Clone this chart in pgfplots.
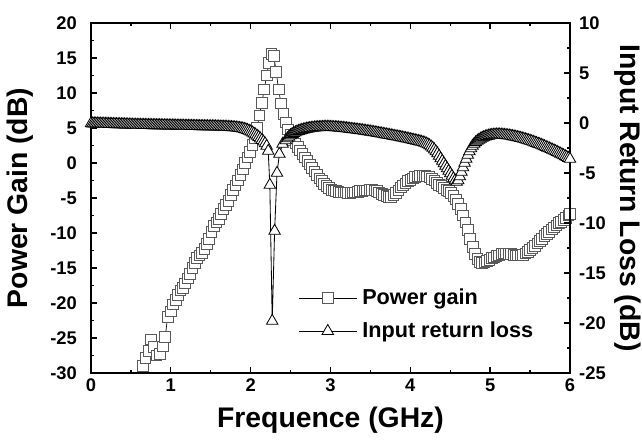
\documentclass[border=0pt]{standalone}
\usepackage{fontspec}
\setmainfont{Liberation Sans}
\usepackage{pgfplots}
\usepackage{pgfplotstable}
\pgfplotsset{compat=1.18}

\pgfplotstableread{
x y
0.65 -29.0
0.68 -27.8
0.72 -26.8
0.75 -25.2
0.78 -26.3
0.82 -27.5
0.86 -27.3
0.90 -26.2
0.93 -24.8
0.96 -22.0
1.00 -21.2
1.03 -20.2
1.06 -19.6
1.09 -18.8
1.12 -18.2
1.15 -17.8
1.18 -17.2
1.21 -16.5
1.24 -15.8
1.27 -15.0
1.30 -14.3
1.33 -13.6
1.36 -13.2
1.39 -12.8
1.42 -12.3
1.45 -11.6
1.48 -10.8
1.51 -9.8
1.54 -9.0
1.57 -8.5
1.60 -8.0
1.63 -7.3
1.66 -6.6
1.69 -6.0
1.72 -5.4
1.75 -4.6
1.78 -3.8
1.81 -3.2
1.84 -2.5
1.87 -1.7
1.90 -0.9
1.93 0.0
1.96 0.8
1.99 1.6
2.02 2.6
2.05 3.6
2.08 5.0
2.11 6.8
2.14 8.6
2.17 10.5
2.20 12.5
2.23 14.3
2.26 15.6
2.29 15.3
2.32 13.0
2.35 10.5
2.38 8.5
2.41 7.0
2.44 5.8
2.47 4.8
2.50 4.0
2.53 3.3
2.56 2.8
2.59 2.3
2.62 1.8
2.65 1.3
2.68 0.8
2.71 0.3
2.74 -0.2
2.77 -0.7
2.80 -1.2
2.83 -1.7
2.86 -2.2
2.89 -2.6
2.92 -3.0
2.95 -3.3
2.98 -3.6
3.01 -3.8
3.04 -3.9
3.07 -4.0
3.10 -4.1
3.13 -4.2
3.16 -4.2
3.19 -4.2
3.22 -4.3
3.25 -4.3
3.28 -4.2
3.31 -4.2
3.34 -4.1
3.37 -4.0
3.40 -4.0
3.43 -3.9
3.46 -3.9
3.49 -3.8
3.52 -3.8
3.55 -3.9
3.58 -4.0
3.61 -4.2
3.64 -4.4
3.67 -4.6
3.70 -4.7
3.73 -4.8
3.76 -4.8
3.79 -4.6
3.82 -4.3
3.85 -3.9
3.88 -3.5
3.91 -3.2
3.94 -2.9
3.97 -2.6
4.00 -2.4
4.03 -2.2
4.06 -2.0
4.09 -1.9
4.12 -1.8
4.15 -1.8
4.18 -1.8
4.21 -1.9
4.24 -2.0
4.27 -2.3
4.30 -2.5
4.33 -2.8
4.36 -3.1
4.39 -3.3
4.42 -3.6
4.45 -3.8
4.48 -4.0
4.51 -4.3
4.54 -4.7
4.57 -5.2
4.60 -5.8
4.63 -6.6
4.66 -7.5
4.69 -8.5
4.72 -9.6
4.75 -10.8
4.78 -12.0
4.81 -13.0
4.84 -13.7
4.87 -14.1
4.90 -14.3
4.93 -14.2
4.96 -14.0
4.99 -13.8
5.02 -13.6
5.05 -13.5
5.08 -13.3
5.11 -13.2
5.14 -13.0
5.17 -12.9
5.20 -12.9
5.23 -13.0
5.26 -13.0
5.29 -13.1
5.32 -13.2
5.35 -13.2
5.38 -13.2
5.41 -13.1
5.44 -12.9
5.47 -12.7
5.50 -12.4
5.53 -12.1
5.56 -11.8
5.59 -11.5
5.62 -11.1
5.65 -10.8
5.68 -10.4
5.71 -10.1
5.74 -9.8
5.77 -9.5
5.80 -9.2
5.83 -8.9
5.86 -8.6
5.89 -8.4
5.92 -8.1
5.95 -7.8
5.98 -7.5
6.00 -7.3
}\gaintable

\pgfplotstableread{
x y
0.00 -0.05
0.02 -0.06
0.04 -0.06
0.06 -0.07
0.08 -0.07
0.10 -0.08
0.12 -0.08
0.14 -0.09
0.16 -0.09
0.18 -0.10
0.20 -0.10
0.22 -0.11
0.24 -0.11
0.26 -0.12
0.28 -0.12
0.30 -0.13
0.32 -0.13
0.34 -0.14
0.36 -0.14
0.38 -0.15
0.40 -0.15
0.42 -0.16
0.44 -0.16
0.46 -0.17
0.48 -0.17
0.50 -0.18
0.52 -0.18
0.54 -0.19
0.56 -0.19
0.58 -0.20
0.60 -0.20
0.62 -0.20
0.64 -0.21
0.66 -0.21
0.68 -0.21
0.70 -0.22
0.72 -0.22
0.74 -0.22
0.76 -0.23
0.78 -0.23
0.80 -0.23
0.82 -0.24
0.84 -0.24
0.86 -0.24
0.88 -0.25
0.90 -0.25
0.92 -0.25
0.94 -0.26
0.96 -0.26
0.98 -0.26
1.00 -0.27
1.02 -0.27
1.04 -0.27
1.06 -0.28
1.08 -0.28
1.10 -0.28
1.12 -0.29
1.14 -0.29
1.16 -0.29
1.18 -0.30
1.20 -0.30
1.22 -0.30
1.24 -0.31
1.26 -0.31
1.28 -0.31
1.30 -0.32
1.32 -0.32
1.34 -0.32
1.36 -0.33
1.38 -0.33
1.40 -0.33
1.42 -0.34
1.44 -0.34
1.46 -0.34
1.48 -0.35
1.50 -0.35
1.52 -0.35
1.54 -0.36
1.56 -0.36
1.58 -0.37
1.60 -0.37
1.62 -0.38
1.64 -0.38
1.66 -0.39
1.68 -0.39
1.70 -0.40
1.72 -0.41
1.74 -0.42
1.76 -0.43
1.78 -0.44
1.80 -0.45
1.82 -0.47
1.84 -0.49
1.86 -0.51
1.88 -0.54
1.90 -0.57
1.92 -0.61
1.94 -0.66
1.96 -0.72
1.98 -0.79
2.00 -0.87
2.02 -0.96
2.04 -1.06
2.06 -1.17
2.08 -1.29
2.10 -1.42
2.12 -1.56
2.14 -1.71
2.16 -1.87
2.18 -2.05
2.20 -2.30
2.22 -2.80
2.24 -6.20
2.27 -19.80
2.30 -10.80
2.33 -5.00
2.36 -3.10
2.40 -2.10
2.44 -1.75
2.46 -1.55
2.48 -1.38
2.50 -1.24
2.52 -1.12
2.54 -1.02
2.56 -0.94
2.58 -0.87
2.60 -0.81
2.62 -0.76
2.64 -0.71
2.66 -0.67
2.68 -0.63
2.70 -0.59
2.72 -0.56
2.74 -0.53
2.76 -0.51
2.78 -0.49
2.80 -0.47
2.82 -0.45
2.84 -0.44
2.86 -0.43
2.88 -0.42
2.90 -0.41
2.92 -0.40
2.94 -0.40
2.96 -0.40
2.98 -0.40
3.00 -0.41
3.02 -0.42
3.04 -0.43
3.06 -0.44
3.08 -0.45
3.10 -0.47
3.12 -0.48
3.14 -0.50
3.16 -0.51
3.18 -0.53
3.20 -0.55
3.22 -0.57
3.24 -0.59
3.26 -0.61
3.28 -0.63
3.30 -0.65
3.32 -0.67
3.34 -0.69
3.36 -0.71
3.38 -0.73
3.40 -0.75
3.42 -0.78
3.44 -0.80
3.46 -0.83
3.48 -0.85
3.50 -0.88
3.52 -0.90
3.54 -0.93
3.56 -0.95
3.58 -0.98
3.60 -1.01
3.62 -1.04
3.64 -1.07
3.66 -1.10
3.68 -1.13
3.70 -1.16
3.72 -1.19
3.74 -1.22
3.76 -1.25
3.78 -1.28
3.80 -1.31
3.82 -1.34
3.84 -1.37
3.86 -1.40
3.88 -1.43
3.90 -1.46
3.92 -1.50
3.94 -1.53
3.96 -1.57
3.98 -1.60
4.00 -1.64
4.02 -1.67
4.04 -1.71
4.06 -1.74
4.08 -1.78
4.10 -1.82
4.12 -1.86
4.14 -1.90
4.16 -1.95
4.18 -2.00
4.20 -2.07
4.22 -2.15
4.24 -2.25
4.26 -2.37
4.28 -2.50
4.30 -2.66
4.32 -2.85
4.34 -3.05
4.36 -3.30
4.38 -3.55
4.40 -3.80
4.42 -4.05
4.44 -4.30
4.46 -4.55
4.48 -4.80
4.50 -5.05
4.52 -5.30
4.54 -5.55
4.56 -5.75
4.58 -5.90
4.60 -5.75
4.62 -5.35
4.64 -4.90
4.66 -4.45
4.68 -4.00
4.70 -3.60
4.72 -3.20
4.74 -2.85
4.76 -2.55
4.78 -2.30
4.80 -2.10
4.82 -1.93
4.84 -1.80
4.86 -1.69
4.88 -1.59
4.90 -1.50
4.92 -1.43
4.94 -1.37
4.96 -1.32
4.98 -1.28
5.00 -1.24
5.02 -1.21
5.04 -1.19
5.06 -1.18
5.08 -1.17
5.10 -1.17
5.12 -1.17
5.14 -1.18
5.16 -1.19
5.18 -1.21
5.20 -1.23
5.22 -1.25
5.24 -1.27
5.26 -1.30
5.28 -1.33
5.30 -1.36
5.32 -1.39
5.34 -1.43
5.36 -1.47
5.38 -1.51
5.40 -1.55
5.42 -1.60
5.44 -1.64
5.46 -1.69
5.48 -1.74
5.50 -1.79
5.52 -1.85
5.54 -1.90
5.56 -1.96
5.58 -2.02
5.60 -2.08
5.62 -2.14
5.64 -2.20
5.66 -2.27
5.68 -2.34
5.70 -2.41
5.72 -2.48
5.74 -2.55
5.76 -2.62
5.78 -2.69
5.80 -2.76
5.82 -2.84
5.84 -2.92
5.86 -3.00
5.88 -3.08
5.90 -3.16
5.92 -3.24
5.94 -3.33
5.96 -3.42
5.98 -3.51
6.00 -3.60
}\rltable

\begin{document}
\begin{tikzpicture}
\pgfplotsset{
  common/.style={
    scale only axis, width=287.4pt, height=210pt,
    xmin=0, xmax=6,
    tick align=inside,
    major tick length=3.5pt, minor tick length=2pt,
    every tick/.style={line width=0.8pt, black},
    axis line style={line width=0.8pt},
    /pgf/number format/assume math mode=true,
    tick label style={font=\bfseries\fontsize{11}{13}\selectfont},
  },
  gainstyle/.style={black, line width=0.4pt, mark=square*, mark size=3.2pt,
    mark options={draw=black!65, fill=white, line width=0.5pt}},
  rlstyle/.style={black, line width=0.5pt, mark=triangle*, mark size=4pt,
    mark options={draw=black, fill=white, line width=0.5pt}},
}
\begin{axis}[common,
  ymin=-30, ymax=20, ytick={-30,-25,...,20}, minor y tick num=1,
  xtick={0,1,...,6}, minor x tick num=1,
  xtick pos=both, ytick pos=left,
  yticklabel style={xshift=-5pt},
  xlabel={Frequence (GHz)},
  every axis x label/.style={at={(axis description cs:0.5,-0.134)}, anchor=center,
    font=\bfseries\fontsize{17}{20}\selectfont},
  ylabel={Power Gain (dB)},
  every axis y label/.style={at={(axis description cs:-0.148,0.5)}, anchor=center, rotate=90,
    font=\bfseries\fontsize{17}{20}\selectfont},
]
\coordinate (O) at (rel axis cs:0,0);
\addplot[gainstyle] table[x=x,y=y] {\gaintable};
\end{axis}
\begin{axis}[common,
  ymin=-25, ymax=10, ytick={-25,-20,...,10}, minor y tick num=1,
  axis x line=none, axis y line*=right,
  yticklabel style={xshift=2pt},
  ylabel={Input Return Loss (dB)},
  every axis y label/.style={at={(axis description cs:1.121,0.5)}, anchor=center, rotate=-90,
    font=\bfseries\fontsize{17}{20}\selectfont},
  legend style={at={(axis description cs:0.432,0.167)}, anchor=west, draw=none, fill=none,
    font=\bfseries\fontsize{13}{15}\selectfont, row sep=7pt, column sep=2pt, inner sep=0pt,
    nodes={inner sep=1pt}},
  legend cell align=left,
  legend image code/.code={\draw[mark repeat=2,mark phase=2,line width=0.4pt]
    plot coordinates {(0pt,0pt)(17.5pt,0pt)(35pt,0pt)};},
]
\addlegendimage{gainstyle}
\addlegendentry{Power gain}
\addplot[rlstyle] table[x=x,y=y] {\rltable};
\addlegendentry{Input return loss}
\end{axis}
\pgfresetboundingbox
\path (O) ++(-54.6pt,-40.2pt) rectangle ++(385.2pt,264pt);
\end{tikzpicture}
\end{document}
